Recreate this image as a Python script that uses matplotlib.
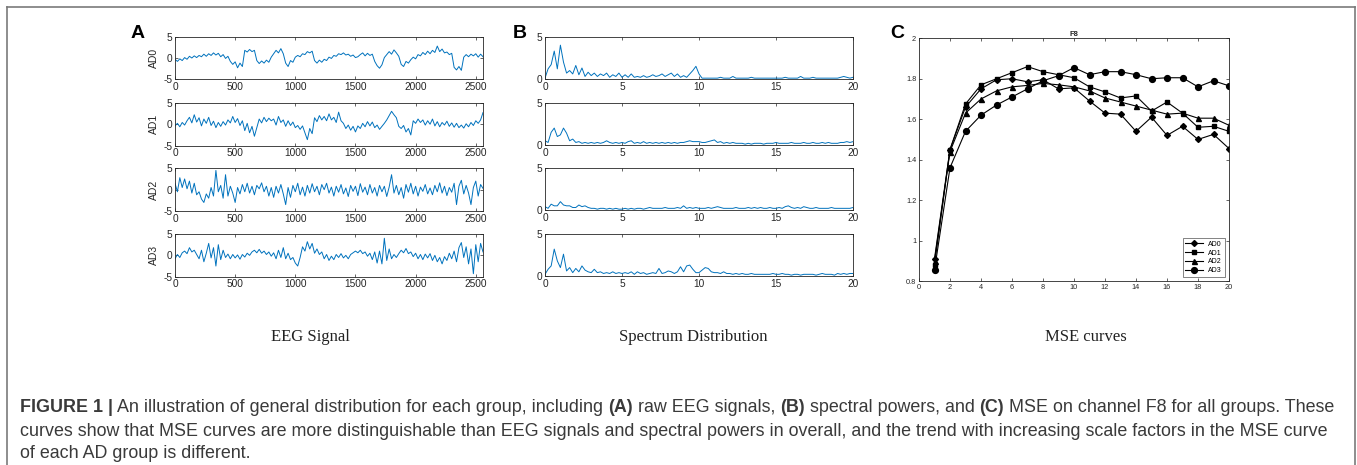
import numpy as np
import matplotlib
matplotlib.use("Agg")
import matplotlib.pyplot as plt
from matplotlib.lines import Line2D

W, H = 1357, 465
plt.rcParams['font.family'] = ['Liberation Sans', 'DejaVu Sans']
plt.rcParams['axes.unicode_minus'] = False

# ---------------- data ----------------
groups = ["AD0", "AD1", "AD2", "AD3"]
eeg_step = 20  # samples between read points

eeg_ad0 = [-0.3, -0.8, -0.2, -0.6, 0.1, -0.3, 0.4, 0.0, 0.5, 0.1, 0.6, 0.3, 0.9, 0.4, 1.0, 0.6, 1.2, 0.7, 1.1, 0.3,
           0.8, -0.1, 0.4, -0.8, -1.5, -0.9, -2.3, -1.2, -2.0, 1.8, 1.4, 2.0, 1.5, 1.8, -0.6, -1.3, -0.7, -1.2, -0.5, -1.0,
           0.2, 1.0, 1.8, 1.2, 2.2, 1.0, -1.2, -2.0, -0.6, -1.0, 0.2, 0.6, 0.3, 1.0, 0.8, 1.5, 1.2, 1.6, -0.6, -1.2,
           -0.5, -1.0, -0.3, -0.6, 0.2, -0.1, 0.6, 0.4, 1.0, 0.8, 1.2, 0.7, 0.9, 0.4, 0.7, 0.1, 0.3, 0.8, 1.2, 0.5,
           1.1, 0.6, 0.9, -0.8, -1.8, -2.4, -1.6, 0.1, 0.8, 1.5, 0.9, 1.9, 1.2, 0.4, -1.5, -2.0, -0.8, -1.2, -0.4, 0.2,
           -0.2, 0.8, 0.5, 1.3, 0.8, 1.6, 1.0, 1.8, 1.3, 2.8, 1.5, 2.1, 1.2, 1.4, 0.8, 1.1, -2.2, -2.8, -2.0, -2.9,
           0.2, 0.8, 0.3, 0.9, 0.5, 1.0, 0.2, 0.9, 0.3]
eeg_ad1 = [-0.4, 0.2, -0.6, 0.4, -0.2, 0.8, 1.6, 0.3, 2.2, 0.5, 1.5, -0.4, 1.2, 0.2, 1.6, -0.3, 0.7, -0.8, 0.4, -0.5,
           0.6, -0.2, 1.0, 0.3, 1.8, 0.4, 1.3, -0.3, 0.8, -1.5, 0.2, -2.0, -0.5, -2.8, -0.8, 1.2, 0.3, 1.6, 0.6, 1.4,
           0.8, 1.2, -0.2, 1.8, 0.4, 1.0, -0.5, 0.8, -0.3, 0.5, -0.8, -0.3, -1.2, -0.4, -2.0, -3.6, -1.0, -2.2, 1.5, 0.6,
           2.0, 1.0, 1.8, 0.8, 2.4, 1.0, 1.6, 0.4, 2.8, 0.8, 0.2, -1.0, -0.2, -1.4, -0.5, -1.8, -0.4, -1.0, 0.2, -0.6,
           0.6, -0.4, 0.5, -0.8, -0.2, -1.2, -0.5, 0.2, 1.0, 2.0, 3.0, 2.2, 1.5, -0.5, -1.0, -0.3, -1.8, -1.0, -2.5, 0.8,
           0.2, 1.2, 0.4, 1.0, -0.2, 0.8, 0.0, 1.2, -0.4, 0.6, -0.6, 0.4, -0.2, 0.7, -0.5, 0.3, -0.7, 0.2, -0.8, -0.2,
           -0.9, 0.1, -0.6, 0.4, -0.3, 0.8, 0.2, 1.0, 2.7]
eeg_ad2 = [1.5, -0.5, 2.8, 0.5, 2.5, 0.2, 2.0, -0.8, 1.5, -1.2, -0.5, -2.2, -3.0, -1.0, -2.0, 0.5, -1.5, 4.5, -0.5, 1.0,
           -2.0, 3.5, -1.5, 0.8, -0.8, -3.0, 0.5, -1.0, 1.2, -0.5, 1.5, -0.8, 0.8, -1.2, 1.0, 0.2, 1.6, -0.5, 0.8, -1.5,
           0.5, -1.8, 0.8, -0.8, 1.2, -1.0, -3.5, 0.5, -1.8, 1.0, -0.5, 1.5, -1.2, 0.6, -1.5, 1.0, -0.8, 1.4, -0.5, 0.8,
           -1.2, 1.2, 0.0, 1.5, -0.8, 0.6, -1.5, 0.8, -0.6, 1.2, -1.0, 0.4, -1.6, 1.0, -0.4, 0.8, -1.4, 1.4, -0.6, 0.6,
           -1.2, 1.2, -0.8, 0.5, -1.5, 1.0, -0.5, 0.8, -1.6, 0.6, 3.5, -0.8, 1.0, -1.2, 0.5, -2.0, 1.2, -0.6, 1.5, -1.0,
           0.8, -1.5, 0.6, -0.4, 1.2, -1.0, 0.4, -1.2, 1.0, -0.5, 1.6, -0.8, 0.8, -1.4, 0.5, -0.6, 1.5, -3.5, 0.8, 2.2,
           -1.0, 1.0, -0.8, -3.5, 0.5, 2.0, -1.5, 1.2, 0.3]
eeg_ad3 = [-0.8, 0.2, -0.5, 0.6, 1.0, 0.4, 1.8, 0.8, 1.2, 0.2, -0.8, 1.2, -1.5, 0.5, 2.8, -0.6, 1.8, -2.5, 2.5, -1.0,
           1.2, -0.5, 0.3, -0.8, 0.2, -0.6, 0.1, -0.9, 0.2, -0.4, 0.5, 0.0, 0.8, 1.2, 0.6, 1.4, 0.5, 1.0, 0.2, 0.8,
           -0.2, 0.6, -0.8, 1.2, -0.5, 1.8, -0.8, 0.5, -1.0, -0.5, -1.8, -2.5, -0.5, 2.0, 1.0, 3.2, 1.5, 2.8, 0.5, 1.5,
           0.2, 0.8, -0.8, 0.2, -1.2, -0.2, -1.0, 0.2, -0.5, 0.4, -0.6, 0.0, -0.8, 0.2, 0.6, 1.0, 0.6, 1.2, 0.4, 0.8,
           -0.2, 0.5, -1.0, 0.8, -1.8, 1.0, -2.0, 4.0, -1.2, 1.5, -0.8, 0.2, -0.5, 0.4, 1.2, 0.6, 1.6, 0.4, 0.8, -0.3,
           0.5, -0.8, 0.2, -1.0, 0.3, -0.6, 0.4, -1.2, 0.0, -1.5, -0.5, -2.0, -0.3, -1.2, 0.5, -0.8, 1.0, -1.5, 1.8, 3.0,
           -0.5, 2.0, -2.0, 1.5, -4.3, 2.5, -1.5, 2.8, 0.8]

spec_step = 0.2  # Hz between read points
spec_ad0 = [0.1, 1.2, 1.7, 3.3, 1.2, 4.0, 2.0, 0.7, 1.0, 0.6, 1.6, 0.5, 1.3, 0.3, 0.8, 0.4, 0.7, 0.3, 0.6, 0.4,
            0.7, 0.2, 0.5, 0.3, 0.7, 0.2, 0.5, 0.2, 0.6, 0.2, 0.3, 0.2, 0.4, 0.2, 0.3, 0.5, 0.3, 0.4, 0.6, 0.3,
            0.5, 0.7, 0.3, 0.6, 0.2, 0.4, 0.2, 0.6, 1.0, 1.5, 0.6, 0.1, 0.1, 0.1, 0.1, 0.1, 0.1, 0.2, 0.1, 0.1,
            0.1, 0.3, 0.1, 0.1, 0.1, 0.1, 0.1, 0.2, 0.1, 0.1, 0.1, 0.1, 0.1, 0.1, 0.1, 0.1, 0.1, 0.1, 0.2, 0.1,
            0.1, 0.1, 0.1, 0.3, 0.1, 0.1, 0.1, 0.2, 0.1, 0.1, 0.1, 0.1, 0.1, 0.1, 0.1, 0.1, 0.2, 0.3, 0.2, 0.1, 0.2]
spec_ad1 = [0.5, 0.3, 1.5, 2.0, 1.0, 1.2, 2.0, 1.4, 0.5, 0.7, 0.3, 0.4, 0.2, 0.3, 0.2, 0.3, 0.2, 0.3, 0.2, 0.3,
            0.5, 0.3, 0.2, 0.3, 0.2, 0.3, 0.2, 0.4, 0.5, 0.2, 0.3, 0.2, 0.4, 0.2, 0.3, 0.2, 0.3, 0.2, 0.3, 0.2,
            0.3, 0.2, 0.3, 0.2, 0.3, 0.3, 0.4, 0.5, 0.4, 0.4, 0.4, 0.3, 0.3, 0.4, 0.5, 0.6, 0.3, 0.4, 0.2, 0.3,
            0.2, 0.3, 0.2, 0.2, 0.2, 0.1, 0.2, 0.1, 0.2, 0.2, 0.2, 0.1, 0.2, 0.2, 0.2, 0.3, 0.2, 0.2, 0.2, 0.2,
            0.3, 0.2, 0.2, 0.2, 0.3, 0.2, 0.2, 0.3, 0.2, 0.2, 0.3, 0.2, 0.3, 0.2, 0.2, 0.2, 0.3, 0.3, 0.4, 0.3, 0.4]
spec_ad2 = [0.4, 0.2, 0.7, 0.5, 0.5, 1.0, 0.6, 0.5, 0.5, 0.3, 0.3, 0.6, 0.4, 0.5, 0.3, 0.2, 0.2, 0.1, 0.2, 0.2,
            0.1, 0.2, 0.1, 0.2, 0.1, 0.1, 0.2, 0.1, 0.2, 0.1, 0.2, 0.2, 0.1, 0.2, 0.3, 0.2, 0.2, 0.2, 0.2, 0.3,
            0.2, 0.2, 0.2, 0.3, 0.2, 0.5, 0.2, 0.3, 0.2, 0.3, 0.2, 0.2, 0.2, 0.3, 0.2, 0.3, 0.4, 0.3, 0.2, 0.2,
            0.2, 0.2, 0.3, 0.2, 0.2, 0.2, 0.3, 0.2, 0.3, 0.2, 0.3, 0.2, 0.2, 0.3, 0.2, 0.2, 0.3, 0.2, 0.4, 0.5,
            0.3, 0.2, 0.3, 0.2, 0.4, 0.3, 0.2, 0.2, 0.3, 0.2, 0.2, 0.2, 0.2, 0.3, 0.2, 0.2, 0.2, 0.2, 0.2, 0.2, 0.3]
spec_ad3 = [0.2, 0.8, 1.2, 3.2, 1.8, 1.0, 2.6, 0.6, 1.0, 0.4, 0.9, 0.5, 1.2, 0.7, 0.5, 0.4, 0.8, 0.4, 0.5, 0.3,
            0.4, 0.3, 0.5, 0.3, 0.4, 0.3, 0.4, 0.3, 0.5, 0.2, 0.5, 0.3, 0.4, 0.2, 0.3, 0.4, 0.3, 0.9, 0.3, 0.4,
            0.6, 0.5, 0.3, 0.5, 1.1, 0.5, 1.2, 1.3, 0.8, 0.4, 0.4, 0.7, 1.0, 0.9, 0.5, 0.4, 0.4, 0.3, 0.5, 0.3,
            0.3, 0.2, 0.3, 0.2, 0.3, 0.2, 0.2, 0.3, 0.2, 0.2, 0.2, 0.2, 0.2, 0.2, 0.3, 0.2, 0.2, 0.3, 0.2, 0.2,
            0.1, 0.2, 0.2, 0.1, 0.2, 0.2, 0.2, 0.2, 0.1, 0.2, 0.3, 0.2, 0.2, 0.2, 0.1, 0.3, 0.2, 0.3, 0.2, 0.3, 0.3]

scales = list(range(1, 21))
mse_ad0 = [0.91, 1.45, 1.66, 1.75, 1.795, 1.80, 1.785, 1.795, 1.75, 1.755, 1.69, 1.63, 1.625, 1.54, 1.61, 1.52, 1.565, 1.50, 1.525, 1.455]
mse_ad1 = [0.88, 1.45, 1.675, 1.77, 1.80, 1.83, 1.86, 1.835, 1.82, 1.805, 1.76, 1.735, 1.705, 1.715, 1.64, 1.685, 1.63, 1.56, 1.565, 1.54]
mse_ad2 = [0.90, 1.44, 1.63, 1.70, 1.74, 1.76, 1.767, 1.777, 1.77, 1.76, 1.74, 1.705, 1.685, 1.665, 1.645, 1.625, 1.63, 1.605, 1.605, 1.57]
mse_ad3 = [0.855, 1.36, 1.54, 1.62, 1.67, 1.71, 1.75, 1.79, 1.815, 1.855, 1.82, 1.835, 1.835, 1.82, 1.80, 1.805, 1.805, 1.76, 1.79, 1.765]

eeg_series = [eeg_ad0, eeg_ad1, eeg_ad2, eeg_ad3]
spec_series = [spec_ad0, spec_ad1, spec_ad2, spec_ad3]
mse_series = [mse_ad0, mse_ad1, mse_ad2, mse_ad3]
mse_markers = ['D', 's', '^', 'o']
mse_msize = [3.0, 3.0, 3.6, 4.2]

subtitles = ["EEG Signal", "Spectrum Distribution", "MSE curves"]
caption_lines = [
    [("FIGURE 1 |", "bold"), (" An illustration of general distribution for each group, including ", "normal"),
     ("(A)", "bold"), (" raw EEG signals, ", "normal"), ("(B)", "bold"), (" spectral powers, and ", "normal"),
     ("(C)", "bold"), (" MSE on channel F8 for all groups. These", "normal")],
    [("curves show that MSE curves are more distinguishable than EEG signals and spectral powers in overall, "
      "and the trend with increasing scale factors in the MSE curve", "normal")],
    [("of each AD group is different.", "normal")],
]

# ---------------- figure ----------------
fig = plt.figure(figsize=(W / 100, H / 100), dpi=100)
fig.patch.set_facecolor('white')

AX_COL = '#262626'
LINE_COL = '#0072BD'


def rect(l, t, r, b):
    return [l / W, 1 - b / H, (r - l) / W, (b - t) / H]


def style(ax, fs):
    for s in ax.spines.values():
        s.set_color(AX_COL)
        s.set_linewidth(0.6)
    ax.tick_params(direction='in', top=True, right=True, length=2.5, width=0.5,
                   colors=AX_COL, labelsize=fs, pad=2)


a_rows = [(36.7, 79.3), (102.7, 145.7), (168.3, 211.0), (234.0, 276.7)]
b_rows = [(36.7, 79.0), (102.7, 145.0), (168.3, 210.0), (234.0, 276.0)]

for i, (g, ys) in enumerate(zip(groups, eeg_series)):
    ax = fig.add_axes(rect(175, a_rows[i][0], 483, a_rows[i][1]))
    xs = np.arange(len(ys)) * eeg_step
    ax.plot(xs, ys, color=LINE_COL, lw=0.7)
    ax.set_xlim(0, 2560)
    ax.set_ylim(-5, 5)
    ax.set_xticks([0, 500, 1000, 1500, 2000, 2500])
    ax.set_yticks([-5, 0, 5])
    ax.set_ylabel(g, fontsize=7.5, color=AX_COL, labelpad=3)
    style(ax, 7.3)

for i, ys in enumerate(spec_series):
    ax = fig.add_axes(rect(545, b_rows[i][0], 853, b_rows[i][1]))
    xs = np.arange(len(ys)) * spec_step
    ax.plot(xs, ys, color=LINE_COL, lw=0.7)
    ax.set_xlim(0, 20)
    ax.set_ylim(0, 5)
    ax.set_xticks([0, 5, 10, 15, 20])
    ax.set_yticks([0, 5])
    style(ax, 7.3)

axc = fig.add_axes(rect(919, 38.3, 1229, 281))
for g, ys, mk, ms in zip(groups, mse_series, mse_markers, mse_msize):
    axc.plot(scales, ys, color='black', lw=0.8, marker=mk, ms=ms, label=g)
axc.set_xlim(0, 20)
axc.set_ylim(0.8, 2)
axc.set_xticks(range(0, 21, 2))
axc.set_yticks([0.8, 1.0, 1.2, 1.4, 1.6, 1.8, 2.0])
axc.set_yticklabels(['0.8', '1', '1.2', '1.4', '1.6', '1.8', '2'])
axc.set_title("F8", fontsize=5.5, fontweight='bold', color=AX_COL, pad=2)
style(axc, 5.3)
leg = axc.legend(loc='lower right', fontsize=5, frameon=True, fancybox=False,
                 edgecolor=AX_COL, handlelength=2.5, borderpad=0.4, labelspacing=0.25,
                 borderaxespad=0.6)
leg.get_frame().set_linewidth(0.5)

# panel letters
for letter, x in zip("ABC", [138, 520, 897]):
    fig.text(x / W, 1 - 33 / H, letter, fontsize=14, fontweight='bold', ha='center', va='center')

# subtitles
for s, x in zip(subtitles, [310, 693, 1086]):
    fig.text(x / W, 1 - 337 / H, s, fontsize=12, ha='center', va='center',
             family=['Liberation Serif', 'DejaVu Serif'], color='#222222')

# caption with mixed weights
renderer = fig.canvas.get_renderer()
CAP_COL = '#3a3a3a'
cap_y = [407, 431, 453]


def draw_line(segs, y, fs):
    x = 20
    for txt, wt in segs:
        t = fig.text(x / W, 1 - y / H, txt, fontsize=fs, fontweight=wt, ha='left', va='center', color=CAP_COL)
        bb = t.get_window_extent(renderer=renderer)
        x += bb.width


# scale font so first line spans ~1318 px
tmp_w = 0
for txt, wt in caption_lines[0]:
    t = fig.text(0, 0, txt, fontsize=10, fontweight=wt)
    tmp_w += t.get_window_extent(renderer=renderer).width
    t.remove()
cap_fs = 10 * 1318 / tmp_w

for segs, y in zip(caption_lines, cap_y):
    draw_line(segs, y, cap_fs)

# outer frame (left, top, right edges)
FR_COL = '#7a7a7a'
fx0, fx1, fy0, fy1 = 7 / W, 1355 / W, 1 - 7 / H, 0.0
for xs_, ys_ in [([fx0, fx0], [fy1, fy0]), ([fx0, fx1], [fy0, fy0]), ([fx1, fx1], [fy0, fy1])]:
    fig.add_artist(Line2D(xs_, ys_, transform=fig.transFigure, color=FR_COL, lw=1.2))

fig.savefig("out.png", dpi=100)
